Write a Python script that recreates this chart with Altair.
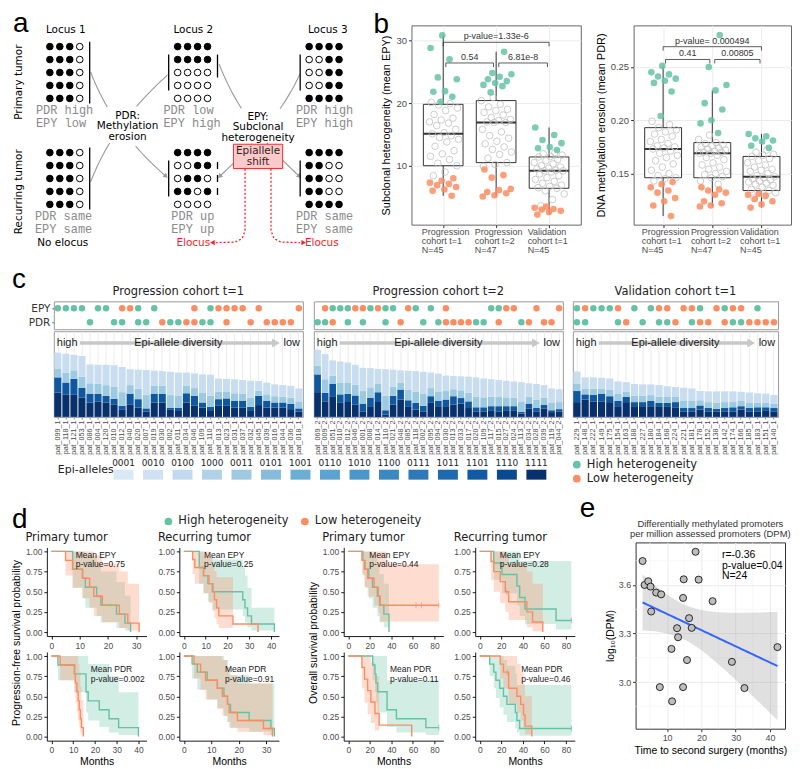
import altair as alt
import numpy as np
import pandas as pd

GREEN, ORANGE = "#66c2a5", "#fc8d62"
SANS, DJ, MONO = "Liberation Sans", "DejaVu Sans", "Liberation Mono"
HET = ["High heterogeneity", "Low heterogeneity"]

# ======================= DATA =======================
# ---- panel a (schematic) ----
locus_names = ["Locus 1", "Locus 2", "Locus 3"]
state_names = ["Primary tumor", "Recurring tumor"]
primary_patterns = [["1110"] * 5,
                    ["1111", "1111", "0000", "0000", "0000"],
                    ["1111", "0011", "0011", "0011", "1111"]]
recurring_patterns = [["1110"] * 5,
                      ["1111", "0011", "0110", "1101", "0000"],
                      ["1111", "1100", "1100", "1100", "1111"]]
primary_tags = [["PDR high", "EPY low"], ["PDR low", "EPY high"], ["PDR high", "EPY high"]]
recurring_tags = [["PDR same", "EPY same"], ["PDR up", "EPY up"], ["PDR same", "EPY same"]]
pdr_note = ["PDR:", "Methylation", "erosion"]
epy_note = ["EPY:", "Subclonal", "heterogeneity"]
shift_note = ["Epiallele", "shift"]
elocus_notes = ["No elocus", "Elocus", "Elocus"]

# ---- panel b ----
cohort_l1 = ["Progression", "Progression", "Validation"]
cohort_l2 = ["cohort t=1", "cohort t=2", "cohort t=1"]
cohort_n = [45, 47, 45]
epy_high = [[30.8, 28.8, 27.0, 24.1, 23.8, 21.9, 21.8, 21.0, 20.2],
            [28.2, 24.8, 24.6, 24.2, 23.8, 23.5, 23.2, 22.9, 22.7, 21.7],
            [16.1, 14.9, 14.1, 13.6, 13.0, 12.8, 12.5]]
epy_low = [[8.0, 7.6, 7.3, 7.1, 6.9, 6.6, 6.2, 6.0, 5.2],
           [9.4, 8.5, 8.1, 6.3, 6.1, 5.8, 5.6, 5.3, 5.1],
           [3.5, 3.3, 3.1, 3.0, 2.8, 2.6, 2.2]]
epy_mid = [[20.1, 19.9, 19.7, 19.2, 18.8, 18.2, 17.6, 17.3, 17.0, 16.8, 16.4, 15.8, 15.3, 15.1,
            14.8, 14.5, 14.2, 13.8, 13.1, 12.4, 11.9, 11.5, 11.0, 10.4, 10.0, 9.0, 8.4],
           [20.9, 20.4, 19.8, 19.4, 19.0, 18.8, 18.5, 18.1, 17.7, 17.4, 17.2, 17.0, 16.9, 16.9,
            15.8, 15.4, 14.8, 14.4, 13.9, 13.5, 13.0, 12.6, 12.2, 11.8, 11.2, 10.5, 10.2, 9.9],
           [12.1, 11.9, 11.7, 11.5, 11.4, 11.0, 10.8, 10.5, 10.3, 10.0, 9.8, 9.6, 9.5, 9.3, 9.2, 9.2,
            9.0, 8.7, 8.4, 8.1, 7.8, 7.5, 7.2, 6.9, 6.7, 6.5, 6.4, 6.0, 5.5, 4.6, 3.6]]
epy_q1, epy_med, epy_q3 = [10.0, 10.5, 6.4], [15.1, 16.9, 9.2], [19.8, 20.4, 11.4]
epy_lo, epy_hi = [5.2, 5.1, 2.2], [30.8, 28.2, 16.1]
epy_tests = [("p-value=1.33e-6", 1, 3, 29.7), ("0.54", 1.05, 1.95, 26.4), ("6.81e-8", 2.05, 2.97, 26.4)]

pdr_high = [[0.251, 0.245, 0.243, 0.241, 0.239, 0.237, 0.235, 0.227, 0.204],
            [0.280, 0.250, 0.233, 0.228, 0.216, 0.210, 0.200, 0.197, 0.188],
            [0.187, 0.185, 0.183, 0.181, 0.180, 0.176, 0.174]]
pdr_low = [[0.142, 0.140, 0.137, 0.134, 0.132, 0.127, 0.124, 0.120, 0.110],
           [0.137, 0.135, 0.134, 0.132, 0.130, 0.124, 0.122, 0.120, 0.119],
           [0.131, 0.130, 0.129, 0.126, 0.124, 0.121, 0.118]]
pdr_mid = [[0.199, 0.196, 0.193, 0.191, 0.189, 0.187, 0.185, 0.182, 0.180, 0.178, 0.176, 0.175, 0.174,
            0.173, 0.171, 0.169, 0.167, 0.165, 0.162, 0.159, 0.156, 0.153, 0.150, 0.148, 0.146, 0.145, 0.143],
           [0.186, 0.182, 0.179, 0.178, 0.177, 0.176, 0.175, 0.174, 0.173, 0.172, 0.171, 0.170, 0.170,
            0.169, 0.169, 0.167, 0.165, 0.163, 0.160, 0.158, 0.156, 0.154, 0.152, 0.150, 0.149, 0.147,
            0.146, 0.143, 0.140],
           [0.172, 0.170, 0.168, 0.167, 0.166, 0.164, 0.162, 0.160, 0.158, 0.156, 0.154, 0.153, 0.152,
            0.150, 0.148, 0.147, 0.146, 0.145, 0.144, 0.143, 0.142, 0.141, 0.140, 0.139, 0.137, 0.135,
            0.134, 0.133, 0.132, 0.129, 0.127]]
pdr_q1, pdr_med, pdr_q3 = [0.146, 0.146, 0.134], [0.173, 0.169, 0.147], [0.193, 0.179, 0.166]
pdr_lo, pdr_hi = [0.110, 0.119, 0.118], [0.251, 0.228, 0.187]
pdr_tests = [("p-value= 0.000494", 1, 3, 0.269), ("0.41", 1.05, 1.95, 0.257), ("0.00805", 2.05, 2.97, 0.257)]

# ---- panel c ----
c_titles = ["Progression cohort t=1", "Progression cohort t=2", "Validation cohort t=1"]
pat1 = ["099", "118", "121", "053", "086", "004", "120", "010", "012", "040", "020", "007", "019", "030",
        "002", "011", "034", "046", "109", "110", "013", "023", "031", "037", "032", "045", "039", "016",
        "044", "036", "018"]
pat2 = ["069", "009", "051", "010", "012", "046", "001", "008", "014", "110", "021", "048", "085", "118",
        "002", "095", "094", "030", "013", "033", "017", "020", "109", "117", "015", "027", "024", "113",
        "034", "028", "039", "119", "044"]
pat3 = ["229", "148", "222", "149", "175", "154", "163", "188", "227", "180", "184", "168", "224", "221",
        "181", "178", "152", "138", "142", "174", "166", "185", "183", "151", "140"]
c_suffix = ["_1", "_2", "_1"]
epy_calls = ["GGGG.GG.OOG.G....O.GOOOO.O....O",
             ".OGGGOOGOGG.OG.G.O.....GGOO..O..O",
             "GOGGGO.G.GOO.OOG.OGOO.G.."]
pdr_calls = ["....G..GG.GG.OGGOOGG.O..O.OOOO.",
             "GGO.G.G..G.O..G.GOOOOGG.O..GO.OO.",
             "GG...GO.G.GGO.GOO.OGGOOOO"]
tot1 = [0.174, 0.171, 0.168, 0.165, 0.142, 0.141, 0.141, 0.140, 0.135, 0.129, 0.128, 0.127, 0.125, 0.124,
        0.122, 0.120, 0.120, 0.118, 0.115, 0.114, 0.104, 0.103, 0.102, 0.100, 0.098, 0.097, 0.093, 0.088,
        0.086, 0.084, 0.077]
navy1 = [0.066, 0.061, 0.061, 0.052, 0.039, 0.041, 0.039, 0.034, 0.019, 0.034, 0.025, 0.014, 0.039, 0.039,
         0.019, 0.016, 0.039, 0.030, 0.025, 0.016, 0.030, 0.030, 0.025, 0.025, 0.016, 0.032, 0.025, 0.025,
         0.025, 0.021, 0.014]
dark1 = [0.041, 0.032, 0.042, 0.027, 0.024, 0.021, 0.018, 0.015, 0.011, 0.029, 0.023, 0.009, 0.024, 0.023,
         0.006, 0.009, 0.025, 0.027, 0.014, 0.011, 0.018, 0.020, 0.018, 0.018, 0.011, 0.025, 0.018, 0.014,
         0.014, 0.014, 0.009]
mid1 = [0.024, 0.027, 0.023, 0.030, 0.028, 0.028, 0.029, 0.032, 0.037, 0.023, 0.028, 0.036, 0.022, 0.022,
        0.034, 0.033, 0.020, 0.021, 0.027, 0.030, 0.020, 0.019, 0.021, 0.020, 0.025, 0.014, 0.018, 0.017,
        0.016, 0.017, 0.019]
tot2 = [0.182, 0.170, 0.153, 0.150, 0.147, 0.141, 0.133, 0.132, 0.130, 0.129, 0.128, 0.126, 0.125, 0.124,
        0.122, 0.120, 0.117, 0.112, 0.111, 0.110, 0.109, 0.107, 0.104, 0.102, 0.100, 0.098, 0.096, 0.094,
        0.091, 0.089, 0.086, 0.077, 0.075]
navy2 = [0.067, 0.042, 0.056, 0.038, 0.040, 0.033, 0.015, 0.029, 0.040, 0.006, 0.033, 0.047, 0.027, 0.020,
         0.015, 0.038, 0.029, 0.029, 0.033, 0.036, 0.024, 0.015, 0.015, 0.018, 0.015, 0.018, 0.018, 0.009,
         0.022, 0.015, 0.023, 0.013, 0.015]
dark2 = [0.048, 0.023, 0.034, 0.023, 0.023, 0.025, 0.021, 0.023, 0.027, 0.012, 0.024, 0.027, 0.018, 0.018,
         0.015, 0.018, 0.014, 0.018, 0.023, 0.015, 0.018, 0.011, 0.011, 0.011, 0.014, 0.011, 0.011, 0.005,
         0.014, 0.009, 0.010, 0.005, 0.006]
mid2 = [0.023, 0.037, 0.022, 0.031, 0.029, 0.029, 0.034, 0.028, 0.022, 0.039, 0.025, 0.018, 0.028, 0.030,
        0.032, 0.022, 0.026, 0.023, 0.019, 0.021, 0.023, 0.028, 0.027, 0.026, 0.025, 0.024, 0.023, 0.028,
        0.019, 0.023, 0.019, 0.021, 0.019]
tot3 = [0.123, 0.107, 0.107, 0.106, 0.104, 0.096, 0.094, 0.089, 0.088, 0.088, 0.086, 0.083, 0.081, 0.079,
        0.077, 0.070, 0.069, 0.069, 0.069, 0.069, 0.068, 0.066, 0.064, 0.063, 0.059]
navy3 = [0.040, 0.047, 0.042, 0.042, 0.040, 0.029, 0.040, 0.029, 0.029, 0.029, 0.029, 0.027, 0.026, 0.015,
         0.015, 0.020, 0.015, 0.015, 0.015, 0.015, 0.020, 0.015, 0.015, 0.018, 0.015]
dark3 = [0.030, 0.014, 0.018, 0.020, 0.016, 0.014, 0.014, 0.011, 0.011, 0.014, 0.009, 0.011, 0.014, 0.009,
         0.009, 0.011, 0.009, 0.007, 0.009, 0.011, 0.009, 0.009, 0.011, 0.008, 0.009]
mid3 = [0.019, 0.016, 0.016, 0.015, 0.017, 0.019, 0.014, 0.017, 0.017, 0.016, 0.017, 0.016, 0.014, 0.019,
        0.019, 0.014, 0.016, 0.016, 0.016, 0.015, 0.014, 0.015, 0.013, 0.013, 0.012]
alleles = ["0001", "0010", "0100", "1000", "0011", "0101", "1001", "0110", "1010", "1100",
           "0111", "1011", "1101", "1110", "1111"]
allele_colors = ["#dbe9f6", "#cfe1f2", "#c2d9ee", "#b0d2e8", "#9dc9e1", "#85bcdc", "#6aaed6", "#5ba3d0",
                 "#4a98c9", "#3a89c1", "#2b7bba", "#1c6aaf", "#0f5aa3", "#084a91", "#08306b"]
seg_names = ["1111", "three methylated", "two methylated", "one methylated"]
seg_colors = ["#08306b", "#0f579e", "#9ecae1", "#c8ddf0"]

# ---- panel d (Kaplan-Meier: time, survival, lower CI, upper CI) ----
KM = {
    "pfs_pri_epy": {"High": ([0, 7.5, 11, 12, 16, 17.5, 23, 26, 28], [1, .778, .667, .556, .444, .333, .222, .111, 0],
                             [1, .55, .42, .30, .20, .12, .05, .02, 0], [1, 1, 1, .95, .85, .75, .62, .45, 0]),
                    "Low": ([0, 5, 7.5, 11, 13.5, 15, 18, 24, 27, 31], [1, .889, .778, .667, .556, .444, .333, .222, .111, 0],
                            [1, .70, .55, .42, .30, .20, .12, .05, .02, 0], [1, 1, 1, 1, 1, .95, .85, .75, .60, 0])},
    "pfs_rec_epy": {"High": ([0, 7, 9, 11, 13.3, 27, 28, 29.2, 31, 41.5], [1, .8, .7, .6, .5, .4, .3, .2, .1, 0],
                             [1, .60, .48, .38, .28, .20, .12, .06, .02, 0], [1, 1, .95, .92, .90, .80, .70, .55, .30, 0]),
                    "Low": ([0, 4, 5, 9, 11.5, 13, 14, 15, 16, 22.5, 34], [1, .9, .8, .7, .6, .5, .4, .3, .2, .1, 0],
                            [1, .72, .60, .48, .36, .26, .17, .10, .05, .1, 0], [1, 1, 1, 1, .95, .85, .75, .68, .68, .1, 0])},
    "os_pri_epy": {"High": ([0, 13.5, 15.5, 19, 22.5, 27, 29, 33, 37.8], [1, .889, .778, .667, .556, .444, .333, .222, 0],
                            [1, .70, .55, .42, .30, .20, .12, .06, 0], [1, 1, 1, 1, .95, .85, .72, .60, 0]),
                   "Low": ([0, 12.7, 15, 18, 24, 27.8, 29.6, 35.6, 84], [1, .889, .778, .667, .556, .444, .333, .333, .333],
                           [1, .72, .56, .44, .33, .24, .13, .13, .13], [1, 1, 1, 1, 1, 1, 1, .84, .84])},
    "os_rec_epy": {"High": ([0, 13, 20.6, 34.5, 37, 42, 70.8, 85], [1, .857, .714, .571, .429, .286, .143, .143],
                            [1, .65, .48, .33, .20, .10, .03, .03], [1, 1, 1, 1, .88, .88, .88, .88]),
                   "Low": ([0, 10.5, 13, 19, 23.7, 26.8, 43.7, 49, 58.5], [1, .875, .75, .625, .5, .375, .25, .125, 0],
                           [1, .65, .50, .36, .25, .15, .06, .01, 0], [1, 1, 1, 1, .95, .85, .75, .60, 0])},
    "pfs_pri_pdr": {"High": ([0, 3, 10.7, 15.9, 16.9, 22, 26.5, 30.9, 40], [1, .889, .778, .556, .444, .333, .222, .111, 0],
                             [1, .70, .55, .30, .20, .12, .05, .02, 0], [1, 1, 1, 1, .90, .90, .75, .55, 0]),
                    "Low": ([0, 4, 10.5, 11, 11.7, 12.3, 12.8, 13.3, 13.8, 14.7],
                            [1, .889, .778, .667, .556, .444, .333, .222, .111, 0],
                            [1, .70, .55, .42, .30, .20, .12, .05, .02, 0], [1, 1, 1, 1, 1, .90, .80, .62, .45, 0])},
    "pfs_rec_pdr": {"High": ([0, 3, 4.9, 8.5, 12.2, 14.6, 15.9, 17, 23.8, 31.7, 33], [1, .9, .8, .7, .6, .5, .4, .3, .2, .1, 0],
                             [1, .72, .58, .46, .35, .26, .18, .11, .06, .02, 0], [1, 1, 1, 1, 1, .95, .86, .76, .66, .66, 0]),
                    "Low": ([0, 3.7, 6.1, 7.9, 12.2, 14, 15.9, 16.5, 19.5, 29, 32.3], [1, .9, .8, .7, .6, .5, .4, .3, .2, .1, 0],
                            [1, .72, .58, .46, .35, .26, .18, .11, .06, .02, 0], [1, 1, 1, 1, 1, .95, .86, .76, .66, .66, 0])},
    "os_pri_pdr": {"High": ([0, 22.7, 24.8, 25.7, 27.2, 36, 44.7, 72, 84], [1, .889, .778, .667, .556, .333, .222, .111, .111],
                            [1, .70, .55, .42, .30, .12, .05, .02, .02], [1, 1, 1, 1, 1, .70, .70, .70, .70]),
                   "Low": ([0, 12.7, 15.1, 18, 21, 24.8, 28.7, 58.9], [1, .857, .714, .571, .429, .286, .143, 0],
                           [1, .60, .42, .28, .17, .08, .143, 0], [1, 1, 1, 1, .92, .75, .143, 0])},
    "os_rec_pdr": {"High": ([0, 9.2, 13, 15, 18.5, 22, 25.2, 33, 34.5, 37, 85], [1, .9, .8, .7, .6, .5, .4, .3, .2, .1, .1],
                            [1, .75, .60, .48, .36, .27, .18, .10, .05, .01, .01], [1, 1, 1, 1, 1, .95, .88, .78, .64, .64, .64]),
                   "Low": ([0, 19, 22, 26.8, 34.5, 38, 40.6, 42, 48.3], [1, .9, .8, .6, .5, .4, .27, .13, 0],
                           [1, .72, .60, .40, .30, .20, .10, .03, 0], [1, 1, 1, 1, .90, .80, .65, .50, 0])},
}
KM_CENSOR = {"os_pri_epy": [("Low", 62.8, .333), ("Low", 68, .333), ("Low", 84, .333)],
             "os_rec_epy": [("High", 85, .143), ("Low", 25, .5)],
             "os_pri_pdr": [("High", 84, .111)],
             "os_rec_pdr": [("High", 85, .1), ("Low", 25.5, .8)]}
km_grid = [["pfs_pri_epy", "pfs_rec_epy", "os_pri_epy", "os_rec_epy"],
           ["pfs_pri_pdr", "pfs_rec_pdr", "os_pri_pdr", "os_rec_pdr"]]
km_titles = ["Primary tumor", "Recurring tumor", "Primary tumor", "Recurring tumor"]
km_xdom = [[[-1.6, 33.6], [-2.1, 43.6], [-4.2, 88.2], [-4.2, 88.2]],
           [[-2.1, 43.7], [-1.65, 34.65], [-4.2, 88.2], [-4.2, 88.2]]]
km_xticks = [[[0, 10, 20, 30], [0, 10, 20, 30, 40], [0, 20, 40, 60, 80], [0, 20, 40, 60, 80]],
             [[0, 10, 20, 30, 40], [0, 10, 20, 30], [0, 20, 40, 60, 80], [0, 20, 40, 60, 80]]]
km_notes = {"pfs_pri_epy": (8.6, "Mean EPY", "p-value=0.75"), "pfs_rec_epy": (9.2, "Mean EPY", "p-value=0.25"),
            "os_pri_epy": (19.6, "Mean EPY", "p-value=0.44"), "os_rec_epy": (18.5, "Mean EPY", "p-value=0.28"),
            "pfs_pri_pdr": (18.1, "Mean PDR", "p-value=0.002"), "pfs_rec_pdr": (15.0, "Mean PDR", "p-value=0.91"),
            "os_pri_pdr": (38.7, "Mean PDR", "p-value=0.11"), "os_rec_pdr": (38.5, "Mean PDR", "p-value=0.46")}
km_note_y = [(0.95, 0.84), (0.84, 0.72)]

# ---- panel e ----
e_time = [2.84, 3.42, 4.48, 5.16, 5.35, 6.8, 8.26, 7.87, 11.26, 11.45, 12.9, 13.19, 14.65, 14.84, 14.65,
          15.8, 16.4, 17.16, 18.3, 19.2, 23.26, 28.9, 32.55, 42.2]
e_dpm = [3.748, 3.600, 3.623, 3.590, 3.436, 3.553, 3.542, 2.969, 3.205, 2.881, 3.333, 3.277, 3.520, 3.635,
         2.969, 3.136, 3.395, 3.335, 3.805, 3.633, 3.500, 3.125, 2.963, 3.216]
e_stats = ["r=-0.36", "p-value=0.04", "N=24"]


# ======================= HELPERS =======================
def one():
    return pd.DataFrame({"k": [0]})


NOBOX = alt.ViewBackground(stroke="transparent")


def letter(ch, x, y):
    return alt.Chart(one()).mark_text(text=ch, fontSize=28, font=SANS, align="left",
                                      baseline="alphabetic", color="black").encode(
        x=alt.value(x), y=alt.value(y))


# ======================= PANEL A =======================
A_X0, A_Y0, A_W, A_H = 11, 23, 361, 200
AXS = alt.Scale(domain=[A_X0, A_X0 + A_W], range=[0, A_W], nice=False, zero=False)
AYS = alt.Scale(domain=[A_Y0, A_Y0 + A_H], range=[0, A_H], nice=False, zero=False)


def AX(f="x"):
    return alt.X(f"{f}:Q", scale=AXS, axis=None)


def AY(f="y"):
    return alt.Y(f"{f}:Q", scale=AYS, axis=None)


LOC_X = [49, 177.3, 309.3]
HEAD_X = [65, 193, 328]
STATE_Y = [44.3, 150.7]
DX, DY = 10, 13
TAG_X = [[35, 163, 296], [34, 171, 296]]
BAR_SPEC = {(0, 0): [("R", 0, 4)], (0, 1): [("R", 0, 4)],
            (1, 0): [("L", 1, 3), ("R", 1, 2)], (1, 1): [("L", 1, 3), ("R", 1, 1), ("R", 2, 2), ("R", 3, 3)],
            (2, 0): [("L", 1, 3)], (2, 1): [("L", 1, 3)]}

circ, abars = [], []
for li in range(3):
    for si, pats in enumerate((primary_patterns[li], recurring_patterns[li])):
        for r, pat in enumerate(pats):
            for c, ch in enumerate(pat):
                circ.append({"x": LOC_X[li] + c * DX, "y": STATE_Y[si] + r * DY,
                             "fill": "black" if ch == "1" else "white"})
for (li, si), specs in BAR_SPEC.items():
    for side, r0, r1 in specs:
        x = LOC_X[li] - 9 if side == "L" else LOC_X[li] + 3 * DX + 10
        pad = 5 if r1 > r0 else 3.5
        abars.append({"x": x, "y1": STATE_Y[si] + r0 * DY - pad, "y2": STATE_Y[si] + r1 * DY + pad})


def qbez(p0, c, p2, n=30):
    out = []
    for t in np.linspace(0, 1, n):
        out.append(((1 - t) ** 2 * p0[0] + 2 * (1 - t) * t * c[0] + t ** 2 * p2[0],
                    (1 - t) ** 2 * p0[1] + 2 * (1 - t) * t * c[1] + t ** 2 * p2[1]))
    return out


CURVES = [((90, 70), (112, 128), (165, 174), True), ((90, 180), (112, 122), (167, 73), False),
          ((219, 62), (242, 122), (299, 174), True), ((300, 72), (277, 122), (220, 174), True)]
HIDE = [(96, 158, 107, 141), (222, 295, 108, 140)]
curve_rows, heads = [], []
seg = 0
for p0, c, p2, arrow in CURVES:
    pts = qbez(p0, c, p2)
    seg += 1
    for i, (x, y) in enumerate(pts):
        hidden = any(a <= x <= b and cc <= y <= d for a, b, cc, d in HIDE)
        if hidden:
            seg += 1
            continue
        curve_rows.append({"x": x, "y": y, "seg": seg, "i": i})
    if arrow:
        (x1, y1), (x2, y2) = pts[-2], pts[-1]
        heads.append({"x": x2, "y": y2, "ang": float(np.degrees(np.arctan2(x2 - x1, -(y2 - y1)))), "col": "#9a9a9a"})
RED_PATHS = [[(245, 167), (245, 229), (242, 237), (235, 240.5), (216, 241)],
             [(271, 167), (271, 229), (274, 237), (281, 240.5), (300, 241)]]
red_rows = []
for k, path in enumerate(RED_PATHS):
    for i, (x, y) in enumerate(path):
        red_rows.append({"x": x, "y": y, "seg": k, "i": i})
heads += [{"x": 213, "y": 241, "ang": 270.0, "col": "#ff2020"}, {"x": 303, "y": 241, "ang": 90.0, "col": "#ff2020"}]

mono = []
for si, tags in enumerate((primary_tags, recurring_tags)):
    for li in range(3):
        for k, s in enumerate(tags[li]):
            mono.append({"x": TAG_X[si][li], "y": STATE_Y[si] + 64 + k * 12.5, "t": s})
notes = ([{"x": 127, "y": 114 + 10.5 * k, "t": s} for k, s in enumerate(pdr_note)] +
         [{"x": 258, "y": 115 + 10.5 * k, "t": s} for k, s in enumerate(epy_note)])
shift_rows = [{"x": 258, "y": 149 + 11 * k, "t": s} for k, s in enumerate(shift_note)]
rot_rows = [{"x": 18, "y": 80, "t": state_names[0]}, {"x": 18, "y": 190, "t": state_names[1]}]
eloc_rows = [{"x": xx, "y": 241, "t": s, "col": cc} for xx, s, cc in
             zip([62, 193, 322], elocus_notes, ["black", "#ff1a1a", "#ff1a1a"])]
head_rows = [{"x": HEAD_X[i], "y": 28, "t": locus_names[i]} for i in range(3)]

a_layers = [
    alt.Chart(pd.DataFrame(curve_rows)).mark_line(color="#9a9a9a", strokeWidth=1.1).encode(
        x=AX(), y=AY(), detail="seg:N", order="i:Q"),
    alt.Chart(pd.DataFrame(red_rows)).mark_line(color="#ff2020", strokeWidth=1.3, strokeDash=[2, 2]).encode(
        x=AX(), y=AY(), detail="seg:N", order="i:Q"),
    alt.Chart(pd.DataFrame(heads)).mark_point(shape="triangle", filled=True, size=28, opacity=1).encode(
        x=AX(), y=AY(), angle=alt.Angle("ang:Q", scale=None), color=alt.Color("col:N", scale=None)),
    alt.Chart(pd.DataFrame({"x1": [233.3], "x2": [282.7], "y1": [142.3], "y2": [166.7]})).mark_rect(
        fill="#f9caca", stroke="#e8322f", strokeWidth=1).encode(x=AX("x1"), x2="x2:Q", y=AY("y1"), y2="y2:Q"),
    alt.Chart(pd.DataFrame(abars)).mark_rule(color="black", strokeWidth=1.3).encode(x=AX(), y=AY("y1"), y2="y2:Q"),
    alt.Chart(pd.DataFrame(circ)).mark_point(shape="circle", filled=True, size=44, stroke="black",
                                             strokeWidth=1, opacity=1).encode(
        x=AX(), y=AY(), color=alt.Color("fill:N", scale=None)),
    alt.Chart(pd.DataFrame(head_rows)).mark_text(font=DJ, fontSize=10.5, color="black").encode(
        x=AX(), y=AY(), text="t:N"),
    alt.Chart(pd.DataFrame(mono)).mark_text(font=MONO, fontSize=12, color="#8a8a8a", align="left").encode(
        x=AX(), y=AY(), text="t:N"),
    alt.Chart(pd.DataFrame(notes)).mark_text(font=DJ, fontSize=10.5, color="black").encode(
        x=AX(), y=AY(), text="t:N"),
    alt.Chart(pd.DataFrame(shift_rows)).mark_text(font=DJ, fontSize=10.5, color="#3a1a1a").encode(
        x=AX(), y=AY(), text="t:N"),
    alt.Chart(pd.DataFrame(rot_rows)).mark_text(font=DJ, fontSize=10.5, color="black", angle=270).encode(
        x=AX(), y=AY(), text="t:N"),
    alt.Chart(pd.DataFrame(eloc_rows)).mark_text(font=DJ, fontSize=10.5).encode(
        x=AX(), y=AY(), text="t:N", color=alt.Color("col:N", scale=None)),
    letter("a", 1, 7),
]
a_chart = alt.layer(*a_layers).properties(width=A_W, height=A_H, view=NOBOX)


# ======================= PANEL B =======================
def jit(k, g, kind):
    base = {"mid": 0.11, "high": 0.47, "low": 0.83}[kind]
    return ((base + k * 0.618034 + g * 0.29) % 1.0 - 0.5) * 0.58


B_LABEL_EXPR = " : ".join(
    f"datum.value == {i + 1} ? ['{cohort_l1[i]}', '{cohort_l2[i]}', 'N={cohort_n[i]}']" for i in range(2)
) + f" : ['{cohort_l1[2]}', '{cohort_l2[2]}', 'N={cohort_n[2]}']"


def box_panel(high, low, mid, q1, med, q3, lo, hi, ydom, yvals, yfmt, ytitle, tests, tick, W, H, lab=None):
    pts = []
    for g in range(3):
        for kind, vals in (("mid", mid[g]), ("high", high[g]), ("low", low[g])):
            for k, v in enumerate(vals):
                pts.append({"x": g + 1 + jit(k, g, kind), "v": v, "kind": kind})
    pts = pd.DataFrame(pts)
    box = pd.DataFrame({"g": [1, 2, 3], "q1": q1, "med": med, "q3": q3, "lo": lo, "hi": hi})
    box["xl"] = box["g"] - 0.375
    box["xr"] = box["g"] + 0.375
    br = pd.DataFrame(tests, columns=["lab", "x1", "x2", "y"])
    br["yt"] = br["y"] - tick
    br["xm"] = (br["x1"] + br["x2"]) / 2
    xs = alt.Scale(domain=[0.4, 3.6], nice=False, zero=False)
    ys = alt.Scale(domain=ydom, nice=False, zero=False)
    xa = alt.Axis(values=[1, 2, 3], labelExpr=B_LABEL_EXPR, title=None, grid=True, gridColor="#ebebeb",
                  tickColor="#333", tickSize=3, labelColor="#4d4d4d", labelFontSize=9, labelFont=SANS,
                  labelAlign="left", labelOffset=-22, labelLineHeight=9, labelPadding=0, domain=False,
                  labelBaseline="top", labelOverlap=False, labelFlush=False)
    ya = alt.Axis(values=yvals, format=yfmt, title=ytitle, grid=True, gridColor="#ebebeb", tickColor="#333",
                  tickSize=3, labelColor="#4d4d4d", labelFontSize=9.5, labelFont=SANS, domain=False,
                  titleFont=SANS, titleFontSize=11, titleFontWeight="normal", titleColor="black",
                  labelPadding=2, titlePadding=4)

    def X(f):
        return alt.X(f, scale=xs, axis=xa)

    def Y(f):
        return alt.Y(f, scale=ys, axis=ya)

    layers = [
        alt.Chart(box).mark_rule(color="#333", strokeWidth=1).encode(x=X("g:Q"), y=Y("lo:Q"), y2="hi:Q"),
        alt.Chart(box).mark_rect(fill="white", stroke="#333", strokeWidth=1).encode(
            x=X("xl:Q"), x2="xr:Q", y=Y("q1:Q"), y2="q3:Q"),
        alt.Chart(box).mark_rule(color="#333", strokeWidth=2).encode(x=X("xl:Q"), x2="xr:Q", y=Y("med:Q")),
        alt.Chart(pts).transform_filter("datum.kind == 'mid'").mark_point(
            shape="circle", size=44, color="#c2c2c2", strokeWidth=0.9, opacity=0.9).encode(x=X("x:Q"), y=Y("v:Q")),
        alt.Chart(pts).transform_filter("datum.kind != 'mid'").mark_circle(size=44, opacity=0.85).encode(
            x=X("x:Q"), y=Y("v:Q"),
            color=alt.Color("kind:N", scale=alt.Scale(domain=["high", "low"], range=[GREEN, ORANGE]), legend=None)),
        alt.Chart(br).mark_rule(color="#333", strokeWidth=0.8).encode(x=X("x1:Q"), x2="x2:Q", y=Y("y:Q")),
        alt.Chart(br).mark_rule(color="#333", strokeWidth=0.8).encode(x=X("x1:Q"), y=Y("y:Q"), y2="yt:Q"),
        alt.Chart(br).mark_rule(color="#333", strokeWidth=0.8).encode(x=X("x2:Q"), y=Y("y:Q"), y2="yt:Q"),
        alt.Chart(br).mark_text(fontSize=9, font=SANS, color="#333", dy=-6).encode(
            x=X("xm:Q"), y=Y("y:Q"), text="lab:N"),
    ]
    if lab:
        layers.append(letter(lab, -38, 8))
    return alt.layer(*layers).properties(width=W, height=H, view=alt.ViewBackground(stroke="#666"))


b1 = box_panel(epy_high, epy_low, epy_mid, epy_q1, epy_med, epy_q3, epy_lo, epy_hi, [0.6, 32.4], [10, 20, 30],
               "d", "Subclonal heterogeneity (mean EPY)", epy_tests, 0.65, 170, 200, lab="b")
b2 = box_panel(pdr_high, pdr_low, pdr_mid, pdr_q1, pdr_med, pdr_q3, pdr_lo, pdr_hi, [0.102, 0.289],
               [0.15, 0.20, 0.25], ".2f", "DNA methylation erosion (mean PDR)", pdr_tests, 0.0037, 158, 200)


# ======================= PANEL C =======================
def strip_chart(pats, epy, pdr, W, first, title):
    rows = []
    for i, p in enumerate(pats):
        for lab, s in (("EPY", epy), ("PDR", pdr)):
            if s[i] != ".":
                rows.append({"pat": p, "row": lab, "col": GREEN if s[i] == "G" else ORANGE})
    yax = alt.Axis(title=None, labelFont=DJ, labelFontSize=10.5, labelColor="#333", tickSize=2,
                   tickColor="#666", domain=False, labelPadding=2) if first else None
    return alt.Chart(pd.DataFrame(rows)).mark_circle(size=42, opacity=1).encode(
        x=alt.X("pat:N", sort=pats, scale=alt.Scale(type="band", domain=pats, paddingInner=0.12,
                                                    paddingOuter=0.06), axis=None),
        y=alt.Y("row:N", scale=alt.Scale(type="point", domain=["EPY", "PDR"], padding=0.5), axis=yax),
        color=alt.Color("col:N", scale=None),
    ).properties(width=W, height=28, view=alt.ViewBackground(stroke="#9a9a9a"),
                 title=alt.TitleParams(title, font=DJ, fontSize=11.5, fontWeight="normal", color="#222", offset=4))


def bar_chart(pats, tot, navy, dark, mid, W, first):
    rows = []
    for i, p in enumerate(pats):
        parts = [navy[i], dark[i], mid[i], tot[i] - navy[i] - dark[i] - mid[i]]
        for o, v in enumerate(parts):
            rows.append({"pat": p, "seg": seg_names[o], "col": seg_colors[o], "v": v, "o": o})
    ys = alt.Scale(domain=[0, 0.232], nice=False, zero=False)
    if first:
        yax = alt.Axis(values=[0, 0.05, 0.1, 0.15, 0.2],
                       labelExpr="datum.value == 0 ? '0' : (abs(datum.value - 0.2) < 0.000001 ? '0.2' : '')",
                       title="Epi-allele frequency", grid=True, gridColor="#ebebeb", tickSize=2, tickColor="#666",
                       labelFont=SANS, labelFontSize=10, labelColor="#333", labelPadding=1, domain=False,
                       titleFont=DJ, titleFontSize=10.5, titleFontWeight="normal", titleColor="#222", titlePadding=1)
    else:
        yax = alt.Axis(values=[0, 0.05, 0.1, 0.15, 0.2], labels=False, ticks=False, title=None, grid=True,
                       gridColor="#ebebeb", domain=False)
    xax = alt.Axis(title=None, labelAngle=-90, labelFontSize=7.3, labelFont=SANS, labelColor="#4d4d4d",
                   tickSize=2, tickColor="#888", labelPadding=1, domain=False, grid=True, gridColor="#ebebeb",
                   labelOverlap=False)
    bars = alt.Chart(pd.DataFrame(rows)).mark_bar().encode(
        x=alt.X("pat:N", sort=pats, scale=alt.Scale(type="band", domain=pats, paddingInner=0.12,
                                                    paddingOuter=0.06), axis=xax),
        y=alt.Y("v:Q", stack="zero", scale=ys, axis=yax),
        color=alt.Color("col:N", scale=None),
        order=alt.Order("o:Q", sort="ascending"),
    )
    arr = pd.DataFrame({"y": [0.2]})
    YA = alt.Y("y:Q", scale=ys, axis=None)
    layers = [
        bars,
        alt.Chart(arr).mark_rule(color="#c8c8c8", strokeWidth=3.5).encode(x=alt.value(26), x2=alt.value(W - 30), y=YA),
        alt.Chart(arr).mark_point(shape="triangle-right", filled=True, size=80, color="#c8c8c8", opacity=1).encode(
            x=alt.value(W - 27), y=YA),
        alt.Chart(arr).mark_text(text="high", align="left", fontSize=11, font=SANS, color="#1a1a1a").encode(
            x=alt.value(3), y=YA),
        alt.Chart(arr).mark_text(text="low", align="right", fontSize=11, font=SANS, color="#1a1a1a").encode(
            x=alt.value(W - 3), y=YA),
        alt.Chart(arr).mark_text(text="Epi-allele diversity", align="center", fontSize=11, font=SANS,
                                 color="#1a1a1a").encode(x=alt.value(W / 2), y=YA),
    ]
    return alt.layer(*layers).properties(width=W, height=86, view=alt.ViewBackground(stroke="#9a9a9a"))


c_pats = [[p + c_suffix[0] for p in pat1], [p + c_suffix[1] for p in pat2], [p + c_suffix[2] for p in pat3]]
c_pats = [["pat_" + p for p in ps] for ps in c_pats]
c_data = [(tot1, navy1, dark1, mid1), (tot2, navy2, dark2, mid2), (tot3, navy3, dark3, mid3)]
c_widths = [250, 250, 206]
c_cols = []
for k in range(3):
    c_cols.append(alt.vconcat(
        strip_chart(c_pats[k], epy_calls[k], pdr_calls[k], c_widths[k], k == 0, c_titles[k]),
        bar_chart(c_pats[k], *c_data[k], c_widths[k], k == 0), spacing=0))
c_label = letter("c", 0, -13).properties(width=1, height=28, view=NOBOX)
c_main = alt.hconcat(c_label, alt.hconcat(*c_cols, spacing=8), spacing=0)

# legend row for c
tiles = pd.DataFrame({"a": alleles, "col": allele_colors})
XB = alt.X("a:N", sort=alleles, scale=alt.Scale(type="band", domain=alleles, range=[102, 536.4],
                                                paddingInner=0.324, paddingOuter=0), axis=None)
het_leg = pd.DataFrame({"het": HET, "col": [GREEN, ORANGE], "yy": [5, 19]})
cleg = alt.layer(
    alt.Chart(one()).mark_text(text="Epi-alleles", align="left", fontSize=11, font=DJ, color="#222").encode(
        x=alt.value(46), y=alt.value(10)),
    alt.Chart(tiles).mark_rect().encode(x=XB, y=alt.value(10), y2=alt.value(20), color=alt.Color("col:N", scale=None)),
    alt.Chart(tiles).mark_text(fontSize=9, font=DJ, color="#222").encode(x=XB, y=alt.value(3), text="a:N"),
    alt.Chart(het_leg).mark_circle(size=60, opacity=1).encode(
        x=alt.value(567), y=alt.Y("yy:Q", scale=None), color=alt.Color("col:N", scale=None)),
    alt.Chart(het_leg).mark_text(align="left", fontSize=11.5, font=DJ, color="#222").encode(
        x=alt.value(577), y=alt.Y("yy:Q", scale=None), text="het:N"),
).properties(width=700, height=22, view=NOBOX)

row2 = alt.vconcat(c_main, cleg, spacing=3)


# ======================= PANEL D =======================
def km_axis(vals, fmt, title=None):
    return alt.Axis(values=vals, format=fmt, title=title, grid=False, domainColor="black", domainWidth=0.9,
                    tickColor="black", tickSize=3, tickWidth=0.9, labelColor="#4d4d4d", labelFontSize=8.5,
                    labelFont=SANS, labelPadding=2, titleFont=SANS, titleFontSize=10.5, titleFontWeight="normal",
                    titleColor="black", titlePadding=2)


def km_chart(key, xdom, xticks, ny, title, bottom):
    rows = []
    for grp, het in (("High", HET[0]), ("Low", HET[1])):
        t, s, lo, hi = KM[key][grp]
        for i in range(len(t)):
            rows.append({"het": het, "t": t[i], "s": s[i], "lo": lo[i], "hi": hi[i]})
    df = pd.DataFrame(rows)
    xs = alt.Scale(domain=xdom, nice=False, zero=False)
    ys = alt.Scale(domain=[-0.05, 1.05], nice=False, zero=False)
    xa = km_axis(xticks, "d", "Months" if bottom else None)
    ya = km_axis([0, 0.25, 0.5, 0.75, 1.0], ".2f")
    X = alt.X("t:Q", scale=xs, axis=xa)
    col = alt.Color("het:N", scale=alt.Scale(domain=HET, range=[GREEN, ORANGE]), legend=None)
    layers = [
        alt.Chart(df).mark_area(interpolate="step-after", opacity=0.3).encode(
            x=X, y=alt.Y("lo:Q", scale=ys, axis=ya, stack=None), y2="hi:Q", color=col),
        alt.Chart(df).mark_line(interpolate="step-after", strokeWidth=1.4).encode(
            x=X, y=alt.Y("s:Q", scale=ys, axis=ya), color=col),
    ]
    if key in KM_CENSOR:
        cens = pd.DataFrame([{"het": HET[0] if g == "High" else HET[1], "t": t, "s": s}
                             for g, t, s in KM_CENSOR[key]])
        layers.append(alt.Chart(cens).mark_tick(orient="vertical", size=6, thickness=1).encode(
            x=X, y=alt.Y("s:Q", scale=ys, axis=ya), color=col))
    nx, l1, l2 = km_notes[key]
    nd = pd.DataFrame({"t": [nx, nx], "s": list(ny), "txt": [l1, l2]})
    layers.append(alt.Chart(nd).mark_text(align="left", fontSize=8.5, font=SANS, color="#1a1a1a").encode(
        x=X, y=alt.Y("s:Q", scale=ys, axis=ya), text="txt:N"))
    ch = alt.layer(*layers).properties(width=100, height=89, view=NOBOX)
    if title:
        ch = ch.properties(title=alt.TitleParams(title, anchor="start", font=DJ, fontSize=11.5,
                                                 fontWeight="normal", color="#1a1a1a", offset=4))
    return ch


km_cols = []
for j in range(4):
    top = km_chart(km_grid[0][j], km_xdom[0][j], km_xticks[0][j], km_note_y[0], km_titles[j], False)
    bot = km_chart(km_grid[1][j], km_xdom[1][j], km_xticks[1][j], km_note_y[1], None, True)
    km_cols.append(alt.vconcat(top, bot, spacing=1))


def ytitle_chart(text, W, x):
    return alt.Chart(one()).mark_text(text=text, angle=270, fontSize=10.5, font=SANS, color="black").encode(
        x=alt.value(x), y=alt.value(96)).properties(width=W, height=190, view=NOBOX)


km_row = alt.hconcat(ytitle_chart("Progression-free survival probability", 10, 5),
                     alt.hconcat(km_cols[0], km_cols[1], spacing=9),
                     ytitle_chart("Overall survival probability", 38, 33),
                     alt.hconcat(km_cols[2], km_cols[3], spacing=8), spacing=0)
d_het = pd.DataFrame({"het": HET, "col": [GREEN, ORANGE], "xx": [157, 294]})
d_leg = alt.layer(
    letter("d", 0, 12),
    alt.Chart(d_het).mark_circle(size=60, opacity=1).encode(
        x=alt.X("xx:Q", scale=None), y=alt.value(5), color=alt.Color("col:N", scale=None)),
    alt.Chart(d_het).transform_calculate(xt="datum.xx + 10").mark_text(
        align="left", fontSize=11.5, font=DJ, color="#222").encode(
        x=alt.X("xt:Q", scale=None), y=alt.value(5), text="het:N"),
).properties(width=400, height=10, view=NOBOX)
dblock = alt.vconcat(d_leg, km_row, spacing=-4)

# ======================= PANEL E =======================
xe = np.array(e_time)
ye = np.array(e_dpm)
slope, icpt = np.polyfit(xe, ye, 1)
n = len(xe)
res = ye - (icpt + slope * xe)
s_err = np.sqrt((res ** 2).sum() / (n - 2))
sxx = ((xe - xe.mean()) ** 2).sum()
grid = np.linspace(xe.min(), xe.max(), 60)
se = s_err * np.sqrt(1 / n + (grid - xe.mean()) ** 2 / sxx)
fit = pd.DataFrame({"t": grid, "f": icpt + slope * grid,
                    "lo": icpt + slope * grid - 2.074 * se, "hi": icpt + slope * grid + 2.074 * se})

exs = alt.Scale(domain=[0.8, 44.4], nice=False, zero=False)
eys = alt.Scale(domain=[2.712, 3.863], nice=False, zero=False)
exa = alt.Axis(values=[10, 20, 30, 40], format="d", title="Time to second surgery (months)", grid=True,
               gridColor="#ebebeb", domain=False, tickColor="#333", tickSize=3, labelColor="#4d4d4d",
               labelFontSize=9, labelFont=SANS, titleFont=SANS, titleFontSize=10.5, titleFontWeight="normal",
               titleColor="black", titlePadding=3, labelPadding=2)
eya = alt.Axis(values=[3.0, 3.3, 3.6], format=".1f", title="log₁₀(DPM)", grid=True, gridColor="#ebebeb",
               domain=False, tickColor="#333", tickSize=3, labelColor="#4d4d4d", labelFontSize=9, labelFont=SANS,
               titleFont=SANS, titleFontSize=10.5, titleFontWeight="normal", titleColor="black",
               titlePadding=3, labelPadding=2)
EX = lambda f: alt.X(f, scale=exs, axis=exa)
EY = lambda f: alt.Y(f, scale=eys, axis=eya)
e_df = pd.DataFrame({"t": e_time, "d": e_dpm})
e_note = pd.DataFrame({"t": [26, 26, 26], "d": [3.785, 3.72, 3.655], "txt": e_stats})
e_plot = alt.layer(
    alt.Chart(pd.DataFrame({"v": [5, 15, 25, 35]})).mark_rule(color="#f3f3f3", strokeWidth=0.6).encode(x=EX("v:Q")),
    alt.Chart(pd.DataFrame({"v": [2.85, 3.15, 3.45, 3.75]})).mark_rule(color="#f3f3f3", strokeWidth=0.6).encode(
        y=EY("v:Q")),
    alt.Chart(fit).mark_area(color="#999999", opacity=0.3).encode(x=EX("t:Q"), y=EY("lo:Q"), y2="hi:Q"),
    alt.Chart(fit).mark_line(color="#3366ff", strokeWidth=2).encode(x=EX("t:Q"), y=EY("f:Q")),
    alt.Chart(e_df).mark_point(shape="circle", filled=True, size=50, color="#bdbdbd", stroke="black",
                               strokeWidth=0.8, opacity=1).encode(x=EX("t:Q"), y=EY("d:Q")),
    alt.Chart(e_note).mark_text(align="left", fontSize=10.5, font=SANS, color="black").encode(
        x=EX("t:Q"), y=EY("d:Q"), text="txt:N"),
).properties(width=150, height=187, view=alt.ViewBackground(stroke="#333"))
e_head = alt.layer(
    letter("e", -56, 0),
    alt.Chart(pd.DataFrame({"txt": ["Differentially methylated promoters", "per million assessed promoters (DPM)"],
                            "yy": [8, 18]})).mark_text(fontSize=9.5, font=SANS, color="#333").encode(
        x=alt.value(75), y=alt.Y("yy:Q", scale=None), text="txt:N"),
).properties(width=150, height=20, view=NOBOX)
eblock = alt.vconcat(e_head, e_plot, spacing=2)

row1 = alt.hconcat(a_chart, alt.hconcat(b1, b2, spacing=13), spacing=0)
row3 = alt.hconcat(dblock, eblock, spacing=3)
chart = alt.vconcat(row1, alt.vconcat(row2, row3, spacing=9), spacing=10).properties(
    padding={"left": 3, "top": 0, "right": 0, "bottom": 0}, background="white"
).configure_view(stroke=None)

chart.save("out.html", embed_options={"renderer": "svg", "actions": False})
